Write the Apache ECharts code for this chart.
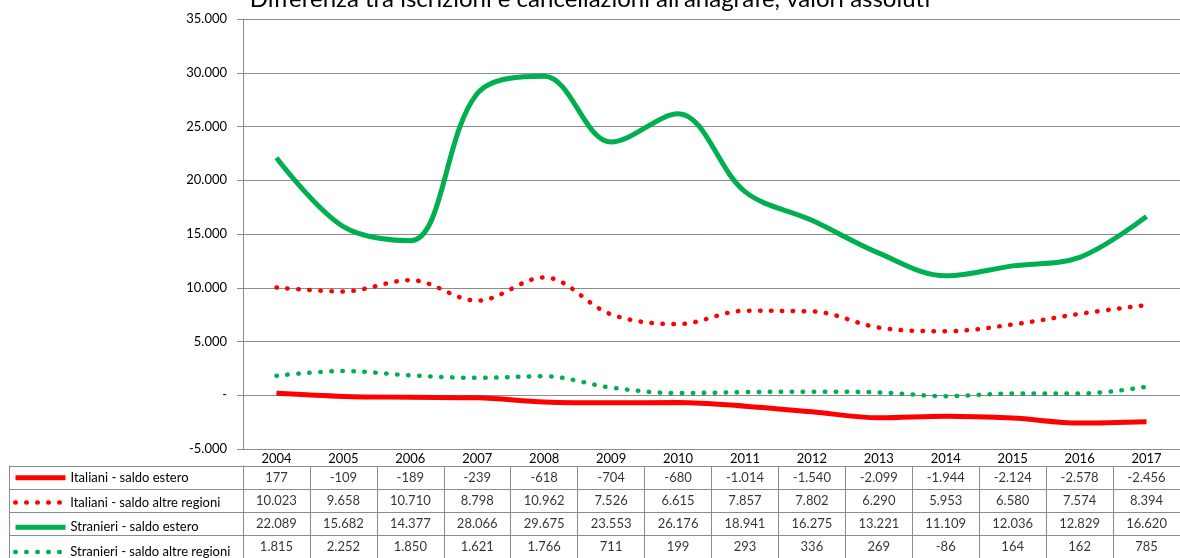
<!DOCTYPE html>
<html>
<head>
<meta charset="utf-8">
<script src="https://cdn.jsdelivr.net/npm/echarts@6/dist/echarts.min.js"></script>
<style>
html,body{margin:0;padding:0;background:#fff;}
#chart{width:1180px;height:558px;}
</style>
</head>
<body>
<div id="chart"></div>
<script>
var titolo = "Differenza tra iscrizioni e cancellazioni all'anagrafe, valori assoluti";
var anni = ['2004','2005','2006','2007','2008','2009','2010','2011','2012','2013','2014','2015','2016','2017'];
var nomi = ['Italiani - saldo estero','Italiani - saldo altre regioni','Stranieri - saldo estero','Stranieri - saldo altre regioni'];
var itaEstero = [177,-109,-189,-239,-618,-704,-680,-1014,-1540,-2099,-1944,-2124,-2578,-2456];
var itaAltre  = [10023,9658,10710,8798,10962,7526,6615,7857,7802,6290,5953,6580,7574,8394];
var strEstero = [22089,15682,14377,28066,29675,23553,26176,18941,16275,13221,11109,12036,12829,16620];
var strAltre  = [1815,2252,1850,1621,1766,711,199,293,336,269,-86,164,162,785];
var yMin = -5000, yMax = 35000, yPasso = 5000;

var grigio = '#8c8c8c';
var font = 'Lato, "Liberation Sans", sans-serif';
var rosso = '#ff0000', verde = '#00b050';
var puntini = [0.5, 10.5];
var curva = 0.35;

// tabella sotto il grafico
var tabTop = 466, rigaH = 24.7;

// formato italiano: punto per le migliaia, zero come trattino
function fmt(v){
	if(v===0) return '-';
	var s = String(Math.abs(v)).replace(/\B(?=(\d{3})+(?!\d))/g,'.');
	return (v<0?'-':'')+s;
}

var righe = [itaEstero, itaAltre, strEstero, strAltre];
var celle = [];
for(var r=0;r<righe.length;r++)
	for(var i=0;i<anni.length;i++)
		celle.push([i, r, righe[r][i]]);

// una legenda per ogni riga della tabella
var legende = [];
for(var k=0;k<nomi.length;k++){
	legende.push({
		orient:'horizontal', left:13, top:tabTop + k*rigaH + (rigaH-14)/2, padding:0,
		itemWidth:50, itemHeight:14, selectedMode:false,
		data:[{name:nomi[k]}],
		itemStyle:{opacity:0},
		lineStyle:{width:(k%2==0)?5:4.5},
		textStyle:{fontSize:13, color:'#000', fontFamily:font}
	});
}

var myChart = echarts.init(document.getElementById('chart'));
var option = {
	animation:false,
	title:{
		text:titolo, left:'center', top:-13, padding:0,
		textStyle:{fontSize:24, fontWeight:'normal', color:'#000', fontFamily:font}
	},
	legend:legende,
	grid:[
		{left:243, right:-13, top:19, bottom:109},
		{left:243, right:-13, top:tabTop, bottom:558 - tabTop - 4*rigaH}
	],
	xAxis:[
		{
			type:'category', data:anni, gridIndex:0,
			axisLine:{onZero:false, lineStyle:{color:grigio}},
			axisTick:{length:17, interval:0, lineStyle:{color:grigio}},
			axisLabel:{color:'#000', fontSize:13, margin:3, interval:0, fontFamily:font}
		},
		{
			type:'category', data:anni, gridIndex:1, position:'top',
			axisLine:{show:false}, axisTick:{show:false}, axisLabel:{show:false},
			splitLine:{show:true, interval:0, lineStyle:{color:grigio}}
		}
	],
	yAxis:[
		{
			type:'value', gridIndex:0, min:yMin, max:yMax, interval:yPasso,
			axisLine:{show:true, lineStyle:{color:grigio}},
			axisTick:{show:true, length:6, lineStyle:{color:grigio}},
			axisLabel:{formatter:fmt, color:'#000', fontSize:13, margin:16, fontFamily:font},
			splitLine:{lineStyle:{color:grigio}}
		},
		{
			type:'category', gridIndex:1, data:nomi, inverse:true,
			axisLine:{show:true, lineStyle:{color:grigio}},
			axisTick:{show:true, length:234, interval:0, lineStyle:{color:grigio}},
			axisLabel:{show:false},
			splitLine:{show:true, interval:0, lineStyle:{color:grigio}}
		},
		{
			type:'category', gridIndex:1, data:nomi, inverse:true, position:'left', offset:234,
			axisLine:{show:true, lineStyle:{color:grigio}},
			axisTick:{show:false}, axisLabel:{show:false}
		}
	],
	series:[
		{
			name:nomi[0], type:'line', data:itaEstero, smooth:curva, symbol:'none',
			lineStyle:{color:rosso, width:5}, itemStyle:{color:rosso}
		},
		{
			name:nomi[1], type:'line', data:itaAltre, smooth:curva, symbol:'none',
			lineStyle:{color:rosso, width:4.5, type:puntini, cap:'round'}, itemStyle:{color:rosso}
		},
		{
			name:nomi[2], type:'line', data:strEstero, smooth:curva, symbol:'none',
			lineStyle:{color:verde, width:5}, itemStyle:{color:verde}
		},
		{
			name:nomi[3], type:'line', data:strAltre, smooth:curva, symbol:'none',
			lineStyle:{color:verde, width:4.5, type:puntini, cap:'round'}, itemStyle:{color:verde}
		},
		{
			type:'scatter', xAxisIndex:1, yAxisIndex:1, data:celle, silent:true,
			symbolSize:1, itemStyle:{color:'rgba(0,0,0,0)'},
			label:{
				show:true, position:'inside', color:'#000', fontSize:13, fontFamily:font,
				formatter:function(p){ return fmt(p.value[2]); }
			}
		}
	]
};
myChart.setOption(option);
</script>
</body>
</html>
